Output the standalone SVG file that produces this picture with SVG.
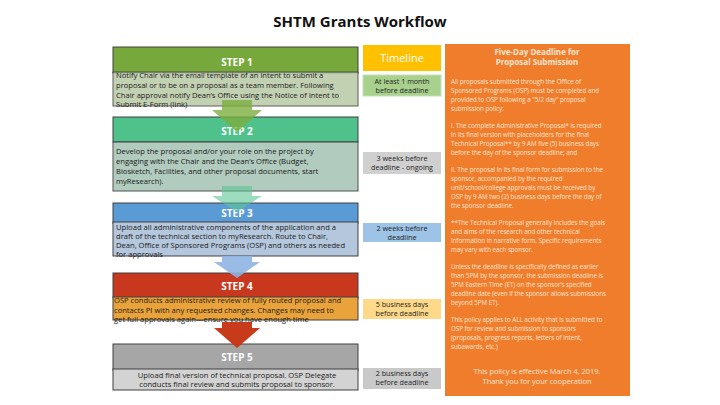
<svg xmlns="http://www.w3.org/2000/svg" width="720" height="405" viewBox="0 0 720 405">
<style>
text{font-family:"Open Sans","Liberation Sans",Arial,sans-serif}
.hd{font-size:10px;font-weight:bold;fill:#fff;text-anchor:middle}
.bd{font-size:7.6px;fill:#1a1a1a}
.tl{font-size:7.2px;fill:#222;text-anchor:middle}
.op{font-size:6.2px;fill:#fde6d4}
.box{stroke:#404040;stroke-width:1}
</style>
<rect width="720" height="405" fill="#fff"/>
<text x="360" y="27" text-anchor="middle" font-size="15" font-weight="bold" fill="#111">SHTM Grants Workflow</text>
<g id="step1">
<rect class="box" x="113" y="47" width="245" height="26" fill="#77a83c"/>
<text class="hd" x="237" y="66">STEP 1</text>
<rect class="box" x="113" y="72" width="245" height="34" fill="#b9c9a6" opacity="0.85"/>
<text class="bd"><tspan x="116" y="78">Notify Chair via the email template of an intent to submit a</tspan><tspan x="116" y="88">proposal or to be on a proposal as a team member.  Following</tspan><tspan x="116" y="98">Chair approval notify Dean’s Office using the Notice of Intent to</tspan><tspan x="116" y="107">Submit E-Form (link)</tspan></text>
</g>
<g id="step2">
<rect class="box" x="113" y="117" width="245" height="25" fill="#4fc28b"/>
<text class="hd" x="237" y="135">STEP 2</text>
<rect class="box" x="113" y="142" width="245" height="49" fill="#a9c6b8" opacity="0.9"/>
<text class="bd"><tspan x="116" y="154">Develop the proposal and/or your role on the project by</tspan><tspan x="116" y="164">engaging with the Chair and the Dean’s Office (Budget,</tspan><tspan x="116" y="174">Biosketch, Facilities, and other proposal documents, start</tspan><tspan x="116" y="184">myResearch).</tspan></text>
</g>
<g id="step3">
<rect class="box" x="113" y="203" width="245" height="20" fill="#5b9bd5"/>
<text class="hd" x="237" y="217" font-size="9">STEP 3</text>
<rect class="box" x="113" y="222" width="245" height="34" fill="#b4c7dc"/>
<text class="bd"><tspan x="116" y="230">Upload all administrative components of the application and a</tspan><tspan x="116" y="239">draft of the technical section to myResearch. Route to Chair,</tspan><tspan x="116" y="248">Dean, Office of Sponsored Programs (OSP) and others as needed</tspan><tspan x="116" y="257">for approvals</tspan></text>
</g>
<g id="step4">
<rect class="box" x="113" y="273" width="245" height="25" fill="#c8381e"/>
<text class="hd" x="237" y="290">STEP 4</text>
<rect class="box" x="113" y="297" width="245" height="23" fill="#e9a33a"/>
<text class="bd"><tspan x="114" y="303">OSP conducts administrative review of fully routed proposal and</tspan><tspan x="114" y="313">contacts PI with any requested changes.  Changes may need to</tspan><tspan x="114" y="322">get full approvals again—ensure you have enough time</tspan></text>
</g>
<g id="step5">
<rect class="box" x="113" y="344" width="245" height="26" fill="#a6a6a6"/>
<text class="hd" x="237" y="361">STEP 5</text>
<rect class="box" x="113" y="369" width="245" height="21" fill="#d3d3d3"/>
<text class="bd" text-anchor="middle"><tspan x="237" y="378">Upload final version of technical proposal. OSP Delegate</tspan><tspan x="237" y="387">conducts final review and submits proposal to sponsor.</tspan></text>
</g>
<g id="connectors">
<polygon points="222,100 252,100 252,110 262,110 237,132 212,110 222,110" fill="#7aae3e" opacity="0.8"/>
<polygon points="222,186 252,186 252,196 262,196 237,212 212,196 222,196" fill="#5bc495" opacity="0.6"/>
<polygon points="222,256 252,256 252,262 260,262 237,278 214,262 222,262" fill="#8fb4e3" opacity="0.9"/>
<polygon points="222,322 252,322 252,328 260,328 237,348 214,328 222,328" fill="#c73a1a"/>
</g>
<g id="timeline">
<rect x="363" y="45" width="78" height="26" fill="#ffc000"/>
<text x="402" y="62" text-anchor="middle" font-size="11" fill="#fff">Timeline</text>
<rect x="363" y="75" width="78" height="21" fill="#a9d18e" stroke="#c5e0b4"/>
<text class="tl"><tspan x="402" y="84">At least 1 month</tspan><tspan x="402" y="93">before deadline</tspan></text>
<rect x="363" y="152" width="78" height="22" fill="#d0d0d0"/>
<text class="tl"><tspan x="402" y="161">3 weeks before</tspan><tspan x="402" y="170">deadline - ongoing</tspan></text>
<rect x="363" y="223" width="78" height="19" fill="#9dc3e6"/>
<text class="tl"><tspan x="402" y="231">2 weeks before</tspan><tspan x="402" y="240">deadline</tspan></text>
<rect x="363" y="299" width="78" height="20" fill="#ffd98a"/>
<text class="tl"><tspan x="402" y="307">5 business days</tspan><tspan x="402" y="316">before deadline</tspan></text>
<rect x="363" y="368" width="78" height="21" fill="#c9c9c9"/>
<text class="tl"><tspan x="402" y="376">2 business days</tspan><tspan x="402" y="385">before deadline</tspan></text>
</g>
<g id="policy">
<rect x="445" y="44" width="185" height="352" fill="#f07d2c"/>
<text x="537" y="55" text-anchor="middle" font-size="8" font-weight="bold" fill="#fde6d4"><tspan x="537" y="55">Five-Day Deadline for</tspan><tspan x="537" y="65">Proposal Submission</tspan></text>
<text class="op"><tspan x="451" y="84">All proposals submitted through the Office of</tspan><tspan x="451" y="93">Sponsored Programs (OSP) must be completed and</tspan><tspan x="451" y="102">provided to OSP following a "5/2 day" proposal</tspan><tspan x="451" y="111">submission policy:</tspan>
<tspan x="451" y="128">i. The complete Administrative Proposal* is required</tspan><tspan x="451" y="137">in its final version with placeholders for the final</tspan><tspan x="451" y="146">Technical Proposal** by 9 AM five (5) business days</tspan><tspan x="451" y="155">before the day of the sponsor deadline; and</tspan>
<tspan x="451" y="172">ii. The proposal in its final form for submission to the</tspan><tspan x="451" y="181">sponsor, accompanied by the required</tspan><tspan x="451" y="190">unit/school/college approvals must be received by</tspan><tspan x="451" y="199">OSP by 9 AM two (2) business days before the day of</tspan><tspan x="451" y="208">the sponsor deadline.</tspan>
<tspan x="451" y="225">**The Technical Proposal generally includes the goals</tspan><tspan x="451" y="234">and aims of the research and other technical</tspan><tspan x="451" y="243">information in narrative form. Specific requirements</tspan><tspan x="451" y="252">may vary with each sponsor.</tspan>
<tspan x="451" y="269">Unless the deadline is specifically defined as earlier</tspan><tspan x="451" y="278">than 5PM by the sponsor, the submission deadline is</tspan><tspan x="451" y="287">5PM Eastern Time (ET) on the sponsor’s specified</tspan><tspan x="451" y="296">deadline date (even if the sponsor allows submissions</tspan><tspan x="451" y="305">beyond 5PM ET).</tspan>
<tspan x="451" y="322">This policy applies to ALL activity that is submitted to</tspan><tspan x="451" y="331">OSP for review and submission to sponsors</tspan><tspan x="451" y="340">(proposals, progress reports, letters of intent,</tspan><tspan x="451" y="349">subawards, etc.)</tspan></text>
<text x="537" y="374" text-anchor="middle" font-size="7.4" fill="#fde6d4"><tspan x="537" y="374">This policy is effective March 4, 2019.</tspan><tspan x="537" y="384">Thank you for your cooperation</tspan></text>
</g>
</svg>
